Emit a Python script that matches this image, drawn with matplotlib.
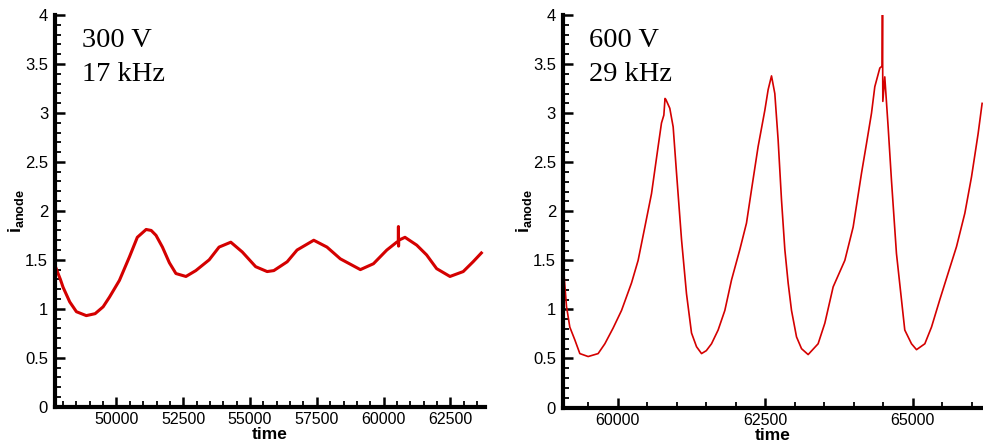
import matplotlib
matplotlib.use('Agg')
import matplotlib.pyplot as plt
from matplotlib.ticker import MultipleLocator

# 300 V case
t300 = [47700, 47900, 48000, 48250, 48500, 48870, 49200, 49500, 49740, 50110,
        50485, 50780, 51110, 51300, 51480, 51720, 51980, 52225, 52600, 52970,
        53470, 53840, 54280, 54710, 55210, 55640, 55890, 56390, 56760, 57385,
        57880, 58380, 59130, 59620, 60120, 60490, 60550, 60555, 60560, 60565,
        60800, 61240, 61610, 61985, 62485, 62980, 63350, 63660]
i300 = [1.44, 1.30, 1.22, 1.07, 0.97, 0.93, 0.95, 1.02, 1.12, 1.29,
        1.53, 1.73, 1.81, 1.80, 1.75, 1.63, 1.47, 1.36, 1.33, 1.39,
        1.50, 1.63, 1.68, 1.58, 1.43, 1.38, 1.39, 1.48, 1.60, 1.70,
        1.63, 1.51, 1.40, 1.46, 1.60, 1.68, 1.69, 1.84, 1.64, 1.70,
        1.73, 1.65, 1.55, 1.41, 1.33, 1.38, 1.48, 1.57]

# 600 V case
t600 = [59075, 59130, 59186, 59271, 59356, 59497, 59666, 59780, 59920, 60063,
        60232, 60344, 60458, 60571, 60683, 60740, 60780, 60800, 60814, 60881,
        60938, 60995, 61080, 61164, 61249, 61334, 61419, 61500, 61588, 61700,
        61814, 61927, 62068, 62181, 62266, 62378, 62492, 62548, 62605, 62661,
        62717, 62774, 62831, 62887, 62944, 63029, 63114, 63226, 63395, 63509,
        63650, 63848, 63989, 64131, 64215, 64300, 64356, 64441, 64480, 64486,
        64492, 64525, 64582, 64638, 64723, 64808, 64864, 64978, 65063, 65204,
        65317, 65458, 65599, 65741, 65882, 65995, 66107, 66175]
i600 = [1.45, 1.03, 0.82, 0.69, 0.55, 0.52, 0.55, 0.65, 0.81, 0.99,
        1.27, 1.50, 1.84, 2.18, 2.66, 2.90, 2.98, 3.15, 3.14, 3.05,
        2.86, 2.39, 1.71, 1.16, 0.76, 0.62, 0.55, 0.58, 0.65, 0.79,
        0.99, 1.30, 1.61, 1.88, 2.22, 2.66, 3.03, 3.24, 3.38, 3.20,
        2.73, 2.12, 1.61, 1.27, 0.99, 0.72, 0.60, 0.54, 0.65, 0.86,
        1.23, 1.50, 1.84, 2.39, 2.69, 3.00, 3.27, 3.46, 3.48, 4.00,
        3.12, 3.37, 2.86, 2.32, 1.57, 1.10, 0.79, 0.65, 0.59, 0.65,
        0.82, 1.10, 1.37, 1.64, 1.98, 2.35, 2.79, 3.10]

plt.rcParams['font.family'] = ['Liberation Sans', 'DejaVu Sans']
plt.rcParams['mathtext.fontset'] = 'custom'
plt.rcParams['mathtext.bf'] = 'Liberation Sans:bold'
plt.rcParams['mathtext.rm'] = 'Liberation Sans'

red = '#d40000'

fig = plt.figure(figsize=(9.83, 4.43), dpi=100)
ax1 = fig.add_axes([0.056, 0.082, 0.4375, 0.884])
ax2 = fig.add_axes([0.5727, 0.080, 0.4273, 0.886])

ax1.plot(t300, i300, color=red, lw=2.2)
ax2.plot(t600, i600, color=red, lw=1.2)

ax1.set_xlim(47700, 63800)
ax2.set_xlim(59070, 66190)

panels = [(ax1, '300 V', '17 kHz', -0.068), (ax2, '600 V', '29 kHz', -0.069)]
for ax, volt, freq, lx in panels:
    ax.set_ylim(0, 4)
    ax.spines['top'].set_visible(False)
    ax.spines['right'].set_visible(False)
    ax.spines['left'].set_linewidth(3)
    ax.spines['bottom'].set_linewidth(3)
    ax.xaxis.set_major_locator(MultipleLocator(2500))
    ax.xaxis.set_minor_locator(MultipleLocator(500))
    ax.yaxis.set_major_locator(MultipleLocator(0.5))
    ax.yaxis.set_minor_locator(MultipleLocator(0.1))
    ax.yaxis.set_major_formatter(plt.FuncFormatter(lambda v, p: f'{v:g}'))
    ax.tick_params(which='major', direction='in', length=7.5, width=1.8, pad=5)
    ax.tick_params(which='minor', direction='in', length=4, width=1.3)
    ax.tick_params(axis='y', labelsize=12)
    ax.tick_params(axis='x', labelsize=11.5, pad=4)
    ax.set_xlabel('time', fontsize=12.5, fontweight='bold')
    ax.xaxis.set_label_coords(0.5, -0.053)
    ax.set_ylabel(r'$\mathbf{i}_\mathbf{anode}$', fontsize=13)
    ax.yaxis.set_label_coords(lx, 0.5)
    ax.text(0.063, 0.918, volt, transform=ax.transAxes,
            family='Liberation Serif', fontsize=20.5, va='baseline')
    ax.text(0.063, 0.831, freq, transform=ax.transAxes,
            family='Liberation Serif', fontsize=20.5, va='baseline')

fig.savefig('out.png', dpi=100)
